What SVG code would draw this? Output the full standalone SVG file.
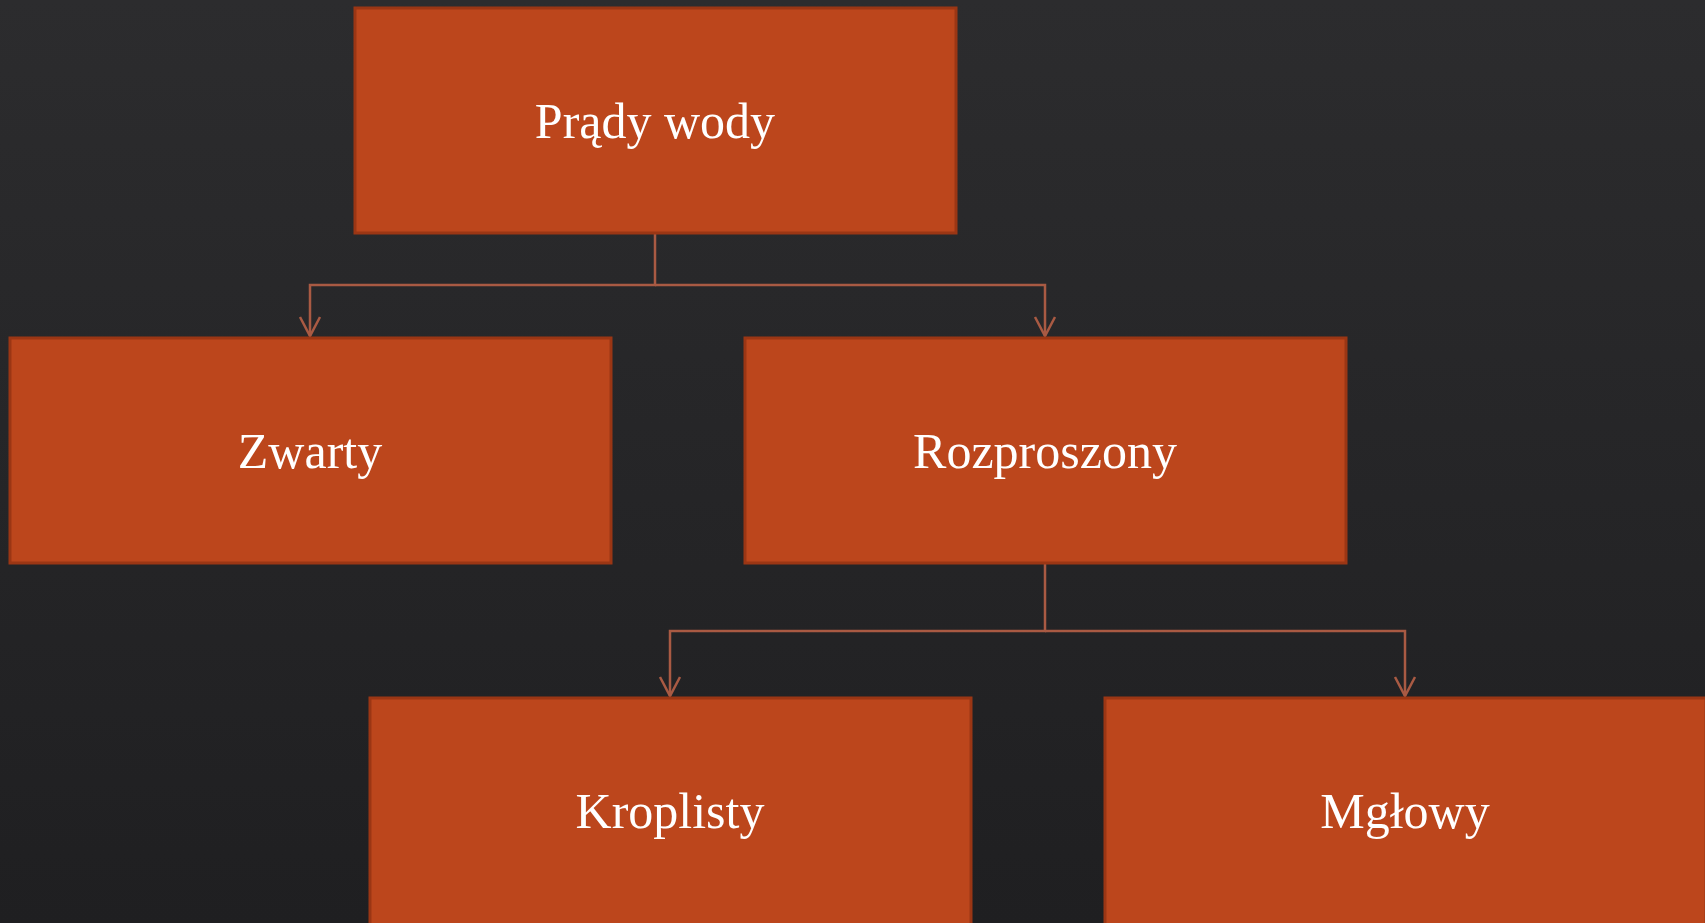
<svg xmlns="http://www.w3.org/2000/svg" width="1705" height="923" viewBox="0 0 1705 923">
<defs>
<linearGradient id="bg" x1="0" y1="0" x2="0" y2="1">
<stop offset="0" stop-color="#2c2c2e"/>
<stop offset="1" stop-color="#1f1f21"/>
</linearGradient>
<marker id="arr" markerWidth="24" markerHeight="24" refX="21" refY="12" orient="auto" markerUnits="userSpaceOnUse" viewBox="0 0 24 24">
<path d="M2,2 L21,12 L2,22" fill="none" stroke="#a95a43" stroke-width="2.5"/>
</marker>
<style>
.box{fill:#bc461c;stroke:#9b3614;stroke-width:3}
.lbl{font-family:"Liberation Serif","Times New Roman",serif;font-size:50px;fill:#ffffff;text-anchor:middle}
.con{fill:none;stroke:#a95a43;stroke-width:2.5}
</style>
</defs>
<rect width="1705" height="923" fill="url(#bg)"/>
<g id="connectors">
<path class="con" d="M655,233 V285 H310 V336" marker-end="url(#arr)"/>
<path class="con" d="M655,285 H1045 V336" marker-end="url(#arr)"/>
<path class="con" d="M1045,564 V631 H670 V696" marker-end="url(#arr)"/>
<path class="con" d="M1045,631 H1405 V696" marker-end="url(#arr)"/>
</g>
<g id="node-prady">
<rect class="box" x="355" y="8" width="601" height="225"/>
<text class="lbl" x="655" y="138">Prądy wody</text>
</g>
<g id="node-zwarty">
<rect class="box" x="10" y="338" width="601" height="225"/>
<text class="lbl" x="310" y="468">Zwarty</text>
</g>
<g id="node-rozproszony">
<rect class="box" x="745" y="338" width="601" height="225"/>
<text class="lbl" x="1045" y="468">Rozproszony</text>
</g>
<g id="node-kroplisty">
<rect class="box" x="370" y="698" width="601" height="240"/>
<text class="lbl" x="670" y="828">Kroplisty</text>
</g>
<g id="node-mglowy">
<rect class="box" x="1105" y="698" width="601" height="240"/>
<text class="lbl" x="1405" y="828">Mgłowy</text>
</g>
</svg>
